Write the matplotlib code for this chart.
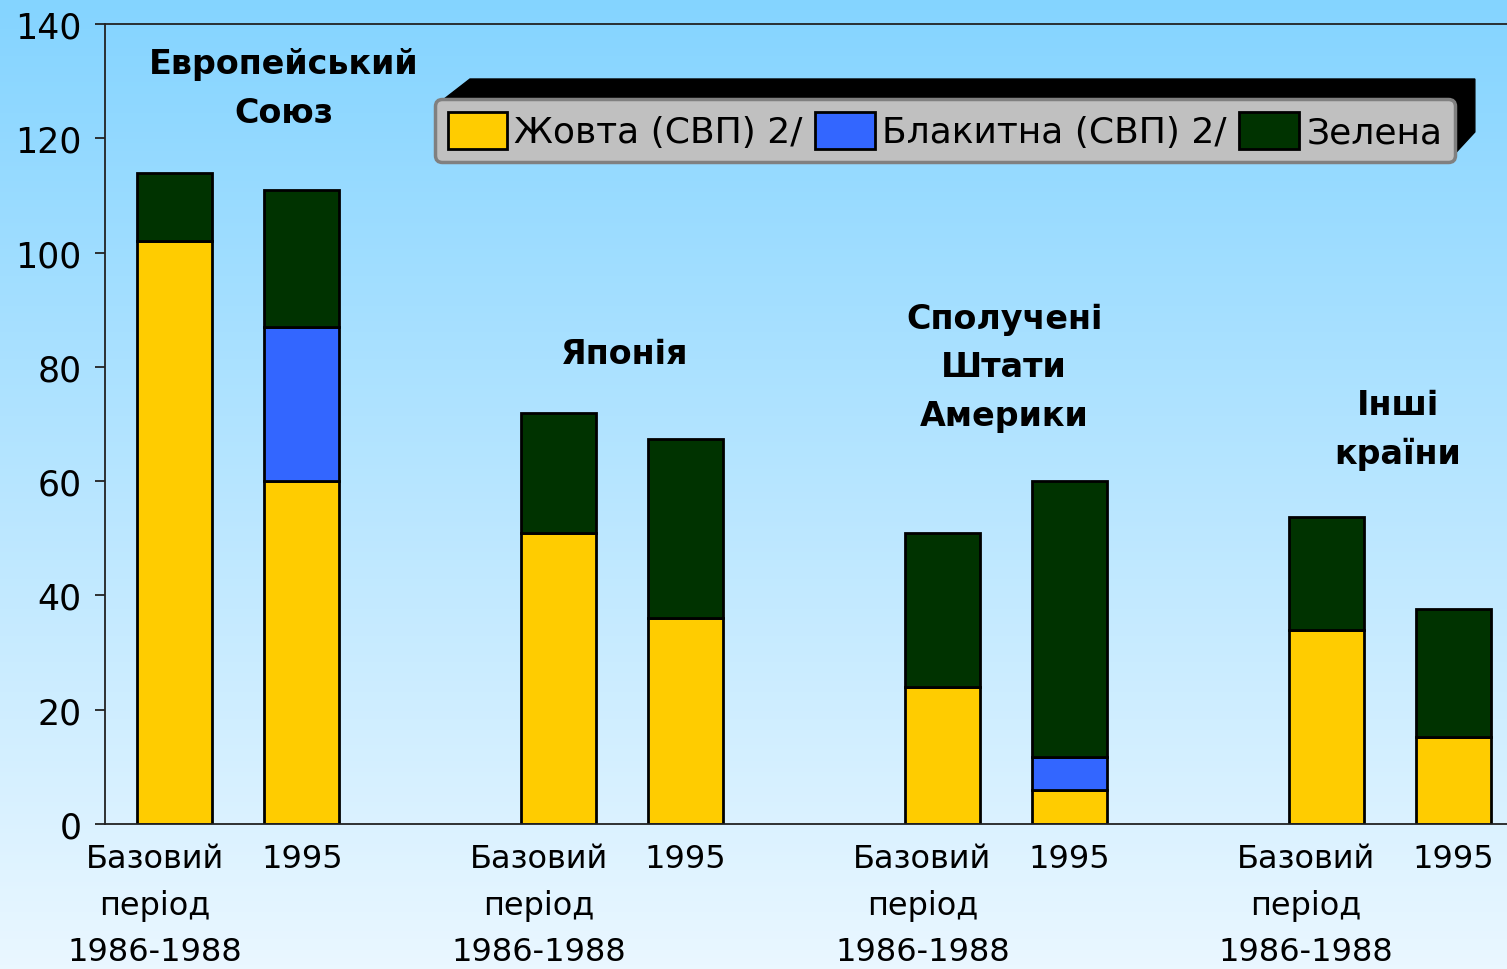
import numpy as np
import matplotlib
matplotlib.use("Agg")
import matplotlib.pyplot as plt
from matplotlib.patches import Rectangle, Polygon
from matplotlib.transforms import IdentityTransform, ScaledTranslation

# ---- data ----
groups = ["Европейський\nСоюз", "Японія", "Сполучені\nШтати\nАмерики", "Інші\nкраїни"]
periods = ["Базовий\nперіод\n1986-1988", "1995"]
series_names = ["Жовта (СВП) 2/", "Блакитна (СВП) 2/", "Зелена"]
series_colors = ["#FFCC00", "#3366FF", "#003300"]
# values per bar in order: EU base, EU 1995, JP base, JP 1995, US base, US 1995, Other base, Other 1995
yellow = [102, 60, 51, 36, 24, 6, 34, 15.2]
blue = [0, 27, 0, 0, 0, 5.7, 0, 0]
green = [12, 24, 21, 31.4, 27, 48.3, 19.7, 22.4]
yticks = [0, 20, 40, 60, 80, 100, 120, 140]

W, H, DPI = 1507, 970, 100
plt.rcParams['font.family'] = ['DejaVu Sans']
fig = plt.figure(figsize=(W / DPI, H / DPI), dpi=DPI)

# background gradient
bg = fig.add_axes([0, 0, 1, 1], zorder=-5)
top = np.array([132, 212, 255]) / 255
bot = np.array([234, 247, 255]) / 255
t = np.linspace(0, 1, 256)[:, None]
grad = (top[None, :] * (1 - t) + bot[None, :] * t)[:, None, :]
bg.imshow(grad, aspect='auto', extent=[0, 1, 0, 1])
bg.axis('off')

ax = fig.add_axes([105 / W, 1 - 825 / H, 1 - 105 / W, (825 - 25) / H], zorder=1)
ax.set_facecolor('none')

gstep = 3.022
xpos = []
for g in range(len(groups)):
    for i in range(len(periods)):
        xpos.append(g * gstep + i)
xpos = np.array(xpos)
bw = 0.59
y = np.array(yellow); b = np.array(blue); gr = np.array(green)
series = [y, b, gr]
bottom = np.zeros(len(xpos))
for vals, col, name in zip(series, series_colors, series_names):
    mask = vals > 0
    ax.bar(xpos[mask], vals[mask], bw, bottom=bottom[mask], color=col,
           edgecolor='black', linewidth=2, label=name, zorder=2)
    bottom = bottom + vals

ax.set_ylim(0, 140)
ax.set_xlim(-0.55, 10.49)
ax.set_yticks(yticks)
ax.set_yticklabels([str(v) for v in yticks])
ax.tick_params(axis='y', length=7, width=1.3, pad=10, labelsize=25, color='#222222')
ax.set_xticks(xpos)
ax.set_xticklabels(periods * len(groups), fontsize=23, linespacing=1.6)
ax.tick_params(axis='x', length=0, pad=14)
for k, lab in enumerate(ax.get_xticklabels()):
    if k % 2 == 0:
        lab.set_transform(lab.get_transform() + ScaledTranslation(-0.2, 0, fig.dpi_scale_trans))
for s in ['left', 'bottom', 'top']:
    ax.spines[s].set_linewidth(1.3)
    ax.spines[s].set_color('#222222')
ax.spines['right'].set_visible(False)

# group titles
title_pos = [(0.86, 128.8), (3.54, 82.3), (6.53, 80.0), (9.63, 69.1)]
for name, (tx, ty) in zip(groups, title_pos):
    ax.text(tx, ty, name, ha='center', va='center', fontsize=24, fontweight='bold',
            linespacing=1.6, zorder=3)

# legend
handles = [Rectangle((0, 0), 1, 1, facecolor=c, edgecolor='black', linewidth=2) for c in series_colors]
leg = ax.legend(handles, series_names, loc='upper left', ncol=3,
                bbox_to_anchor=(435 / W, 1 - 100 / H), bbox_transform=fig.transFigure,
                borderaxespad=0, fontsize=26, handlelength=1.65, handleheight=1.2,
                handletextpad=0.2, columnspacing=0.35, borderpad=0.35,
                fancybox=True, framealpha=1, facecolor='#C0C0C0', edgecolor='#808080')
leg.get_frame().set_linewidth(2.5)
leg.set_zorder(6)

fig.canvas.draw()
bb = leg.get_window_extent()
x0, y0, x1, y1 = bb.x0, bb.y0, bb.x1, bb.y1
d = 20
shadow = Polygon([(x0 + 4, y1 - 4), (x0 + 35, y1 + d), (x1 + d, y1 + d),
                  (x1 + d, y0 + 30), (x1 - 4, y0 + 4)], closed=True,
                 facecolor='black', edgecolor='black', transform=IdentityTransform(),
                 clip_on=False, zorder=5)
ax.add_artist(shadow)

fig.savefig('out.png', dpi=DPI)
